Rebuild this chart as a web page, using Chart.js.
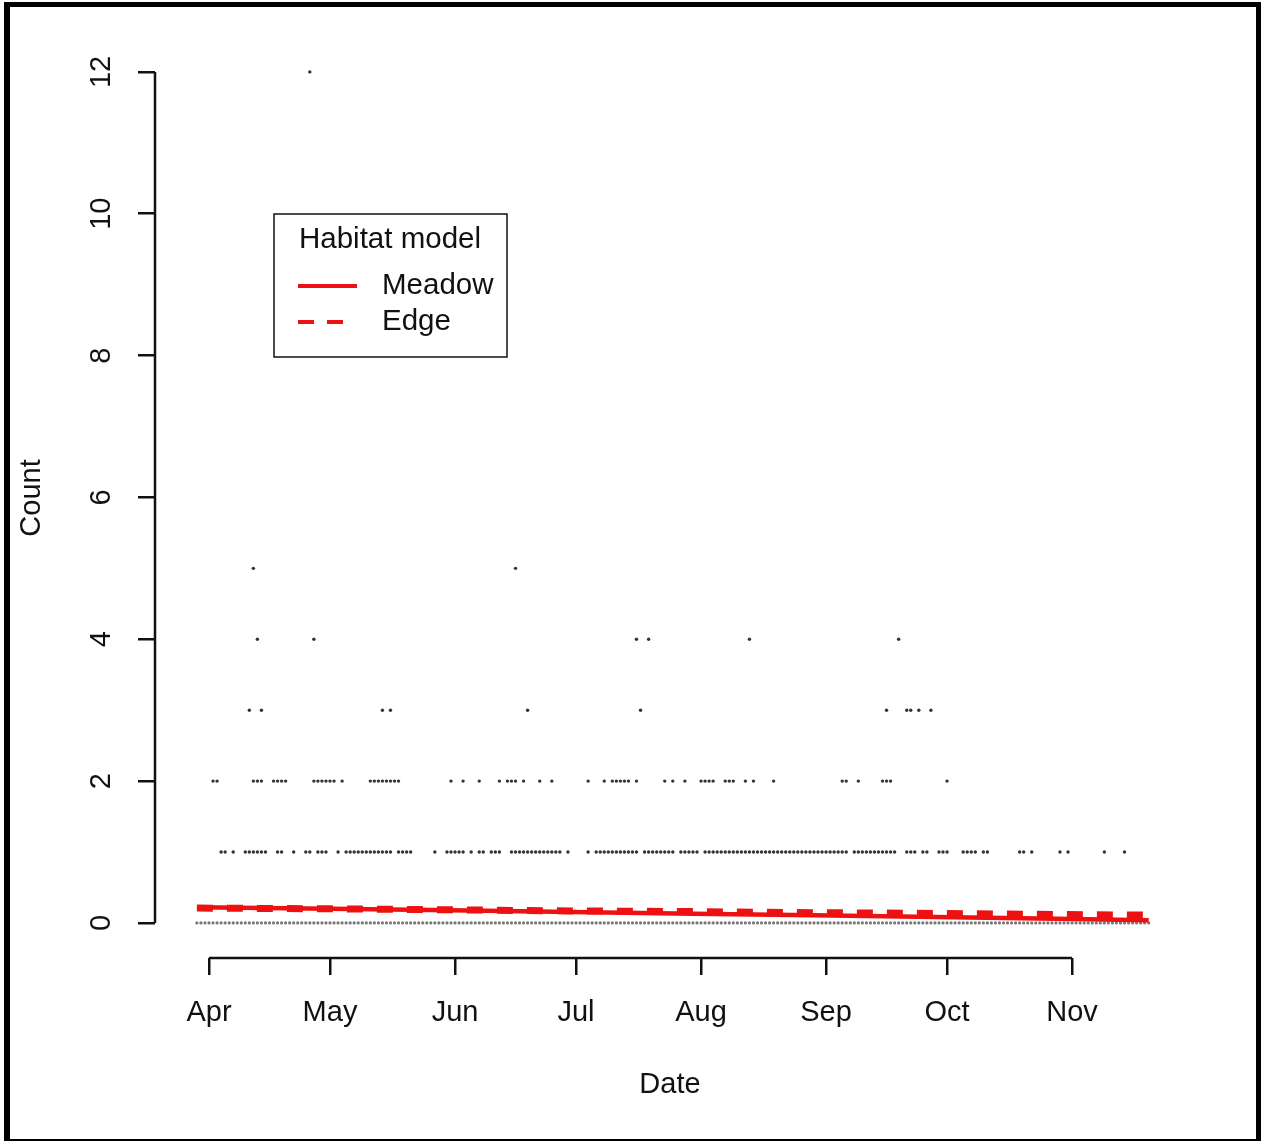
<!DOCTYPE html>
<html>
<head>
<meta charset="utf-8">
<script src="https://cdn.jsdelivr.net/npm/chart.js@4.4.0/dist/chart.umd.min.js"></script>
<style>
html, body { margin: 0; padding: 0; background: #fff; }
#wrap { position: relative; width: 1261px; height: 1141px; }
#frame { position: absolute; left: 4px; top: 2px; width: 1257px; height: 1139px; box-sizing: border-box;
  border-style: solid; border-color: #000; border-width: 5px 5px 2px 6px; pointer-events: none; }
</style>
</head>
<body>
<div id="wrap"><canvas id="myChart"></canvas><div id="frame"></div></div>
<script>
// days counted from 1 April
var monthDays = [0, 30, 61, 91, 122, 153, 183, 214];
var monthLabels = ['Apr', 'May', 'Jun', 'Jul', 'Aug', 'Sep', 'Oct', 'Nov'];
var yTicks = [0, 2, 4, 6, 8, 10, 12];

// observed counts, one list of days per count value
var zeroDays = [-3,-2,-1,0,1,2,3,4,5,6,7,8,9,10,11,12,13,14,15,16,17,18,19,20,
  21,22,23,24,25,26,27,28,29,30,31,32,33,34,35,36,37,38,39,40,
  41,42,43,44,45,46,47,48,49,50,51,52,53,54,55,56,57,58,59,60,
  61,62,63,64,65,66,67,68,69,70,71,72,73,74,75,76,77,78,79,80,
  81,82,83,84,85,86,87,88,89,90,91,92,93,94,95,96,97,98,99,100,
  101,102,103,104,105,106,107,108,109,110,111,112,113,114,115,116,117,118,119,120,
  121,122,123,124,125,126,127,128,129,130,131,132,133,134,135,136,137,138,139,140,
  141,142,143,144,145,146,147,148,149,150,151,152,153,154,155,156,157,158,159,160,
  161,162,163,164,165,166,167,168,169,170,171,172,173,174,175,176,177,178,179,180,
  181,182,183,184,185,186,187,188,189,190,191,192,193,194,195,196,197,198,199,200,
  201,202,203,204,205,206,207,208,209,210,211,212,213,214,215,216,217,218,219,220,
  221,222,223,224,225,226,227,228,229,230,231,232,233];
var oneDays = [3,4,6,9,10,11,12,13,14,17,18,21,24,25,27,28,29,32,34,35,36,37,38,39,40,41,42,43,44,45,
  47,48,49,50,56,59,60,61,62,63,65,67,68,70,71,72,75,76,77,78,79,80,81,82,83,84,85,86,87,89,
  94,96,97,98,99,100,101,102,103,104,105,106,108,109,110,111,112,113,114,115,117,118,119,120,121,
  123,124,125,126,127,128,129,130,131,132,133,134,135,136,137,138,139,140,141,142,143,144,145,146,
  147,148,149,150,151,152,153,154,155,156,157,158,160,161,162,163,164,165,166,167,168,169,170,
  173,174,175,177,178,181,182,183,187,188,189,190,192,193,201,202,204,211,213,222,227];
var twoDays = [1,2,11,12,13,16,17,18,19,26,27,28,29,30,31,33,40,41,42,43,44,45,46,47,60,63,67,72,74,75,76,78,
  82,85,94,98,100,101,102,103,104,106,113,115,118,122,123,124,125,128,129,130,133,135,140,157,158,161,
  167,168,169,183];
var threeDays = [10,13,43,45,79,107,168,173,174,176,179];
var fourDays = [12,26,106,109,134,171];
var fiveDays = [11,76];
var twelveDays = [25];

// fitted habitat models
var modelDays = [-3, 30, 60, 90, 120, 150, 180, 210, 233];
var meadowFit = [0.22, 0.2, 0.18, 0.155, 0.13, 0.11, 0.085, 0.06, 0.04];
var edgeFit = [0.21, 0.2, 0.185, 0.17, 0.16, 0.145, 0.135, 0.12, 0.11];

var red = '#ee1111';
var ink = '#111';
Chart.defaults.font.family = '"Liberation Sans", Arial, sans-serif';
Chart.defaults.font.size = 29;
Chart.defaults.color = ink;

function pts(days, count) {
  return days.map(function (d) { return { x: d, y: count }; });
}
function curve(ys) {
  return modelDays.map(function (d, i) { return { x: d, y: ys[i] }; });
}

var observed = pts(oneDays, 1).concat(pts(twoDays, 2), pts(threeDays, 3), pts(fourDays, 4),
  pts(fiveDays, 5), pts(twelveDays, 12));

// R style axes: line only from first to last tick
var axisLines = {
  id: 'axisLines',
  afterDraw: function (chart) {
    var ctx = chart.ctx, x = chart.scales.x, y = chart.scales.y;
    ctx.save();
    ctx.strokeStyle = ink;
    ctx.lineWidth = 2.5;
    ctx.beginPath();
    ctx.moveTo(y.right, y.getPixelForValue(yTicks[0]));
    ctx.lineTo(y.right, y.getPixelForValue(yTicks[yTicks.length - 1]));
    ctx.moveTo(x.getPixelForValue(monthDays[0]), x.top);
    ctx.lineTo(x.getPixelForValue(monthDays[monthDays.length - 1]), x.top);
    ctx.stroke();
    ctx.restore();
  }
};

// boxed legend like legend() in R
var boxLegend = {
  id: 'boxLegend',
  afterDraw: function (chart) {
    var ctx = chart.ctx;
    var ds = chart.data.datasets;
    ctx.save();
    ctx.strokeStyle = ink;
    ctx.lineWidth = 1.5;
    ctx.strokeRect(274, 214, 233, 143);
    ctx.fillStyle = ink;
    ctx.font = '29.5px "Liberation Sans", Arial, sans-serif';
    ctx.textBaseline = 'middle';
    ctx.fillText('Habitat model', 299, 240);
    ctx.fillText(ds[1].label, 382, 286);
    ctx.fillText(ds[0].label, 382, 322);
    ctx.strokeStyle = red;
    ctx.lineWidth = 4;
    ctx.beginPath();
    ctx.moveTo(298, 286); ctx.lineTo(357, 286);
    ctx.stroke();
    ctx.setLineDash([16, 13]);
    ctx.beginPath();
    ctx.moveTo(298, 322); ctx.lineTo(345, 322);
    ctx.stroke();
    ctx.restore();
  }
};

var axisGrid = { display: true, drawOnChartArea: false, drawTicks: true, tickLength: 17, color: ink, lineWidth: 2.5 };

const ctx = document.getElementById('myChart');
var myChart = new Chart(ctx, {
  type: 'scatter',
  data: {
    datasets: [
      { label: 'Edge', data: curve(edgeFit), showLine: true, pointRadius: 0, borderColor: red,
        borderWidth: 7, borderDash: [16, 14], order: 1 },
      { label: 'Meadow', data: curve(meadowFit), showLine: true, pointRadius: 0, borderColor: red,
        borderWidth: 4.5, order: 2 },
      { label: 'obs', data: observed, pointRadius: 1.7, pointBorderWidth: 0,
        backgroundColor: '#333', order: 3 },
      { label: 'zero', data: pts(zeroDays, 0), pointRadius: 1.6, pointBorderWidth: 0,
        backgroundColor: '#777', order: 4 }
    ]
  },
  options: {
    responsive: true,
    maintainAspectRatio: false,
    animation: false,
    layout: { padding: { left: 10, top: 38, right: 76, bottom: 20 } },
    plugins: { legend: { display: false }, tooltip: { enabled: false } },
    scales: {
      x: {
        type: 'linear', min: -13.39, max: 242.0,
        afterBuildTicks: function (s) { s.ticks = monthDays.map(function (v) { return { value: v }; }); },
        afterFit: function (s) { s.height = 1141 - 958 - 20; },
        grid: axisGrid,
        border: { display: false },
        ticks: { autoSkip: false, maxRotation: 0, padding: 21,
          callback: function (v, i) { return monthLabels[i]; } },
        title: { display: true, text: 'Date', padding: { top: 0, bottom: 19 } }
      },
      y: {
        type: 'linear', min: -0.494, max: 12.478,
        afterBuildTicks: function (s) { s.ticks = yTicks.map(function (v) { return { value: v }; }); },
        afterFit: function (s) { s.width = 155 - 10; },
        grid: axisGrid,
        border: { display: false },
        ticks: { minRotation: 90, maxRotation: 90, crossAlign: 'center', padding: 20, autoSkip: false },
        title: { display: true, text: 'Count', padding: { top: 5, bottom: 0 } }
      }
    }
  },
  plugins: [axisLines, boxLegend]
});
</script>
</body>
</html>
